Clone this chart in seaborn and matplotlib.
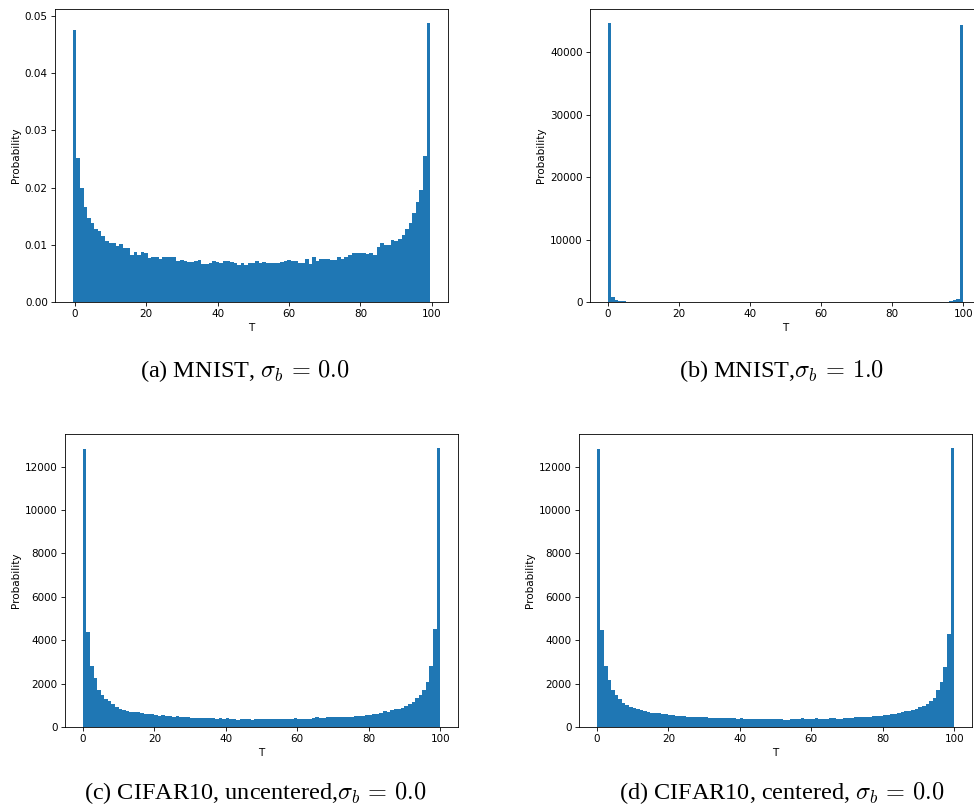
import numpy as np
import matplotlib
matplotlib.use("Agg")
import matplotlib.pyplot as plt
import seaborn as sns

# Bin edges: the MNIST sigma_b=0 run is binned on integer-centred bins,
# the other runs on [0, 100] with unit-width bins.
edges_centred = np.arange(-0.5, 100.0, 1.0)
edges_unit = np.arange(0.0, 101.0, 1.0)

# (a) MNIST, sigma_b = 0.0 -- probability per bin
mnist_s0 = [
    0.0475, 0.0252, 0.0200, 0.0166, 0.0147, 0.0138, 0.0127, 0.0124, 0.0115, 0.0107,
    0.0103, 0.0104, 0.0098, 0.0101, 0.0094, 0.0094, 0.0083, 0.0087, 0.0083, 0.0087,
    0.0085, 0.0077, 0.0079, 0.0078, 0.0075, 0.0079, 0.0079, 0.0079, 0.0078, 0.0072,
    0.0073, 0.0072, 0.0070, 0.0070, 0.0071, 0.0073, 0.0066, 0.0067, 0.0069, 0.0071,
    0.0070, 0.0068, 0.0071, 0.0071, 0.0070, 0.0068, 0.0065, 0.0068, 0.0064, 0.0068,
    0.0068, 0.0071, 0.0068, 0.0070, 0.0068, 0.0068, 0.0069, 0.0069, 0.0070, 0.0071,
    0.0073, 0.0072, 0.0071, 0.0069, 0.0068, 0.0075, 0.0067, 0.0078, 0.0072, 0.0076,
    0.0076, 0.0075, 0.0073, 0.0073, 0.0078, 0.0076, 0.0078, 0.0082, 0.0085, 0.0085,
    0.0085, 0.0085, 0.0084, 0.0085, 0.0083, 0.0097, 0.0103, 0.0100, 0.0100, 0.0108,
    0.0107, 0.0111, 0.0118, 0.0127, 0.0139, 0.0155, 0.0175, 0.0196, 0.0256, 0.0488,
]

# (b) MNIST, sigma_b = 1.0 -- counts per bin
mnist_s1 = [
    44680, 750, 320, 160, 160, 50, 50, 50, 50, 50,
    50, 50, 50, 50, 50, 0, 50, 50, 0, 0,
    0, 0, 0, 0, 0, 0, 0, 0, 0, 0,
    0, 0, 0, 0, 0, 0, 0, 0, 0, 0,
    0, 0, 0, 0, 0, 0, 0, 0, 0, 0,
    0, 0, 0, 0, 0, 0, 0, 0, 0, 0,
    0, 0, 0, 0, 0, 0, 0, 0, 0, 0,
    0, 0, 0, 0, 0, 0, 0, 0, 0, 0,
    0, 0, 0, 50, 0, 0, 50, 50, 50, 50,
    50, 50, 50, 50, 50, 80, 120, 320, 550, 44415,
]

# (c) CIFAR10, uncentered, sigma_b = 0.0 -- counts per bin
cifar_uncentered = [
    12810, 4380, 2805, 2240, 1690, 1460, 1290, 1210, 1060, 920,
    845, 800, 735, 705, 690, 690, 630, 615, 600, 600,
    565, 520, 535, 505, 505, 475, 505, 445, 445, 460,
    430, 400, 400, 415, 430, 400, 400, 385, 400, 385,
    400, 385, 370, 335, 385, 385, 350, 335, 385, 350,
    350, 370, 350, 350, 350, 350, 350, 350, 350, 415,
    370, 370, 385, 385, 400, 460, 415, 415, 445, 475,
    460, 460, 445, 460, 460, 475, 505, 505, 505, 535,
    565, 580, 600, 660, 735, 690, 780, 810, 830, 890,
    965, 1060, 1150, 1320, 1470, 1700, 2085, 2805, 4500, 12860,
]

# (d) CIFAR10, centered, sigma_b = 0.0 -- counts per bin
cifar_centered = [
    12810, 4460, 2805, 2160, 1690, 1470, 1290, 1120, 1010, 920,
    890, 830, 780, 720, 690, 660, 660, 630, 600, 600,
    550, 535, 505, 490, 490, 475, 475, 460, 460, 445,
    445, 430, 430, 415, 430, 400, 415, 400, 400, 385,
    400, 385, 385, 385, 370, 385, 385, 370, 370, 350,
    385, 350, 335, 320, 370, 385, 350, 400, 385, 350,
    370, 400, 350, 370, 370, 400, 400, 385, 385, 415,
    415, 430, 445, 445, 445, 460, 475, 490, 505, 520,
    550, 565, 580, 600, 630, 690, 720, 750, 780, 845,
    905, 950, 1060, 1210, 1320, 1700, 2085, 2775, 4280, 12860,
]

captions = [
    r"(a) MNIST, $\sigma_b\,=\,0.0$",
    r"(b) MNIST,$\sigma_b\,=\,1.0$",
    r"(c) CIFAR10, uncentered,$\sigma_b\,=\,0.0$",
    r"(d) CIFAR10, centered, $\sigma_b\,=\,0.0$",
]

BAR_COLOR = "#1f77b4"
W, H = 974, 806

plt.rcParams.update({
    "font.family": ["DejaVu Sans"],
    "mathtext.fontset": "cm",
    "axes.linewidth": 0.6,
    "xtick.major.size": 2.6,
    "ytick.major.size": 2.6,
    "xtick.major.width": 0.6,
    "ytick.major.width": 0.6,
    "xtick.major.pad": 2.6,
    "ytick.major.pad": 2.6,
    "xtick.labelsize": 7.5,
    "ytick.labelsize": 7.5,
    "axes.labelsize": 7.5,
    "axes.labelpad": 3.0,
})

fig = plt.figure(figsize=(W / 100, H / 100), dpi=100)


def px_axes(left, top, right, bottom):
    return fig.add_axes([left / W, 1 - bottom / H, (right - left) / W, (bottom - top) / H])


def draw_hist(ax, edges, heights):
    centres = (edges[:-1] + edges[1:]) / 2
    sns.histplot(x=centres, weights=np.asarray(heights, dtype=float),
                 bins=list(edges), ax=ax,
                 color=BAR_COLOR, alpha=1.0, linewidth=0, edgecolor="none")
    ax.set_xlabel("T")
    ax.set_ylabel("Probability")
    ax.set_xticks([0, 20, 40, 60, 80, 100])


panels = [
    (px_axes(55, 9, 448, 302), edges_centred, mnist_s0),
    (px_axes(590, 9, 981, 302), edges_unit, mnist_s1),
    (px_axes(65, 434, 458, 727), edges_unit, cifar_uncentered),
    (px_axes(579, 434, 972, 727), edges_unit, cifar_centered),
]

for ax, edges, heights in panels:
    draw_hist(ax, edges, heights)

panels[0][0].set_yticks([0.0, 0.01, 0.02, 0.03, 0.04, 0.05])
panels[0][0].yaxis.set_major_formatter(matplotlib.ticker.FormatStrFormatter("%.2f"))

# Sub-figure captions (x centre, baseline y) in pixels
caption_pos = [(245, 377), (782, 377), (255, 799), (782, 799)]
for (cx, cy), text in zip(caption_pos, captions):
    fig.text(cx / W, 1 - cy / H, text, ha="center", va="baseline",
             fontsize=17.5, family=["Liberation Serif"])

fig.savefig("out.png", dpi=100)
